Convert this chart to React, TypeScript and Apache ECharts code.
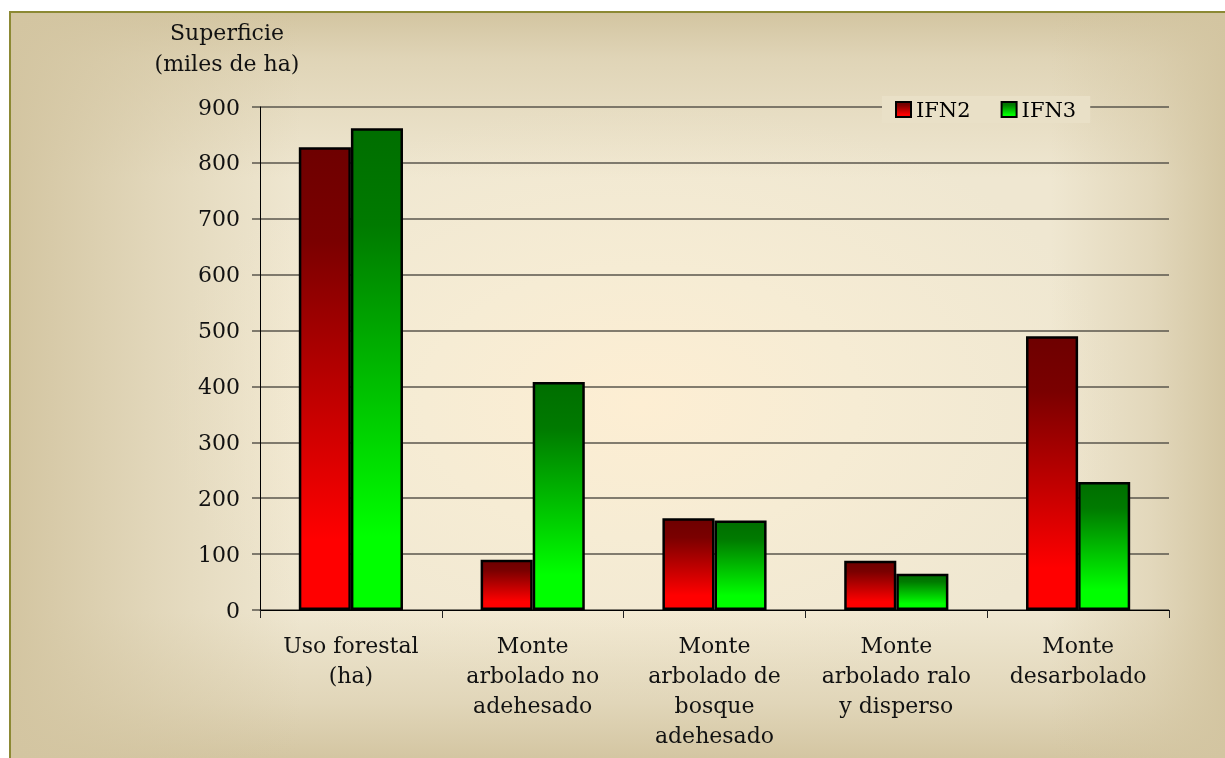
import React, { useEffect, useRef } from "react";
import * as echarts from "echarts";

// Superficie forestal por tipo de uso, IFN2 frente a IFN3 (miles de ha)
const categories: string[] = [
  "Uso forestal\n(ha)",
  "Monte\narbolado no\nadehesado",
  "Monte\narbolado de\nbosque\nadehesado",
  "Monte\narbolado ralo\ny disperso",
  "Monte\ndesarbolado",
];
const ifn2: number[] = [828, 90, 164, 88, 490];
const ifn3: number[] = [862, 408, 160, 65, 229];
const seriesNames: string[] = ["IFN2", "IFN3"];
const axisTitle = "Superficie\n(miles de ha)";

const FONT = "'DejaVu Serif', 'Liberation Serif', serif";

const redFill = new echarts.graphic.LinearGradient(0, 0, 0, 1, [
  { offset: 0, color: "#6e0000" },
  { offset: 0.2, color: "#7a0000" },
  { offset: 0.85, color: "#ff0000" },
  { offset: 1, color: "#ff0000" },
]);
const greenFill = new echarts.graphic.LinearGradient(0, 0, 0, 1, [
  { offset: 0, color: "#006e00" },
  { offset: 0.2, color: "#007a00" },
  { offset: 0.85, color: "#00ff00" },
  { offset: 1, color: "#00ff00" },
]);

// Frame background: tan edges fading into a warm cream centre
const tan = (a: number) => `rgba(211,197,161,${a})`;
const frameBackground = [
  `linear-gradient(to right, ${tan(1)} 0px, ${tan(0.85)} 40px, ${tan(0.45)} 150px, ${tan(0)} 290px, ${tan(0)} 1040px, ${tan(0.45)} 1140px, ${tan(1)} 1216px)`,
  `linear-gradient(to bottom, ${tan(1)} 0px, ${tan(0.55)} 45px, ${tan(0)} 165px, ${tan(0)} 600px, ${tan(0.5)} 690px, ${tan(1)} 747px)`,
  `radial-gradient(ellipse 480px 300px at 630px 390px, #fdeed3 0%, #f6ecd4 45%, #efe7d1 100%)`,
].join(", ");

export default function App() {
  const ref = useRef<HTMLDivElement>(null);

  useEffect(() => {
    if (!ref.current) return;
    const chart = echarts.init(ref.current, undefined, { renderer: "svg" });
    chart.setOption({
      animation: false,
      backgroundColor: "transparent",
      textStyle: { fontFamily: FONT, color: "#111" },
      grid: { left: 260, right: 56, top: 107, bottom: 148, containLabel: false },
      legend: {
        data: seriesNames,
        left: 882,
        top: 96,
        padding: [3, 14, 3, 13],
        itemWidth: 15,
        itemHeight: 15,
        itemGap: 30,
        backgroundColor: "#e9e0c7",
        textStyle: { fontFamily: FONT, fontSize: 21, color: "#000" },
        icon: "rect",
      },
      graphic: [
        {
          type: "text",
          x: 227,
          y: 48,
          style: {
            text: axisTitle,
            font: `22px ${FONT}`,
            fill: "#111",
            textAlign: "center",
            textVerticalAlign: "middle",
            lineHeight: 31,
          },
        },
      ],
      xAxis: {
        type: "category",
        data: categories,
        axisLine: { lineStyle: { color: "#000", width: 1 } },
        axisTick: { show: true, length: 8, lineStyle: { color: "#222" } },
        axisLabel: {
          interval: 0,
          margin: 20,
          fontSize: 22,
          lineHeight: 30,
          color: "#111",
          fontFamily: FONT,
          align: "center",
        },
      },
      yAxis: {
        type: "value",
        min: 0,
        max: 900,
        interval: 100,
        axisLine: { show: true, lineStyle: { color: "#000", width: 1 } },
        axisTick: { show: true, length: 8, lineStyle: { color: "#5a564c", width: 1.5 } },
        axisLabel: { margin: 20, fontSize: 22, color: "#111", fontFamily: FONT },
        splitLine: { show: true, lineStyle: { color: "#5a564c", width: 1.5 } },
      },
      series: [
        {
          name: seriesNames[0],
          type: "bar",
          data: ifn2,
          barGap: "0%",
          barCategoryGap: "42.7%",
          itemStyle: { color: redFill, borderColor: "#000", borderWidth: 2.5 },
        },
        {
          name: seriesNames[1],
          type: "bar",
          data: ifn3,
          barGap: "0%",
          barCategoryGap: "42.7%",
          itemStyle: { color: greenFill, borderColor: "#000", borderWidth: 2.5 },
        },
      ],
    });
    return () => chart.dispose();
  }, []);

  return (
    <div style={{ position: "fixed", left: 0, top: 0, width: 1225, height: 758, overflow: "hidden" }}>
      <div
        style={{
          position: "absolute",
          left: 9,
          top: 11,
          width: 1216,
          height: 747,
          boxSizing: "border-box",
          borderTop: "2px solid #8c8934",
          borderLeft: "2px solid #8c8934",
          background: frameBackground,
        }}
      />
      <div ref={ref} style={{ position: "absolute", left: 0, top: 0, width: 1225, height: 758 }} />
    </div>
  );
}
